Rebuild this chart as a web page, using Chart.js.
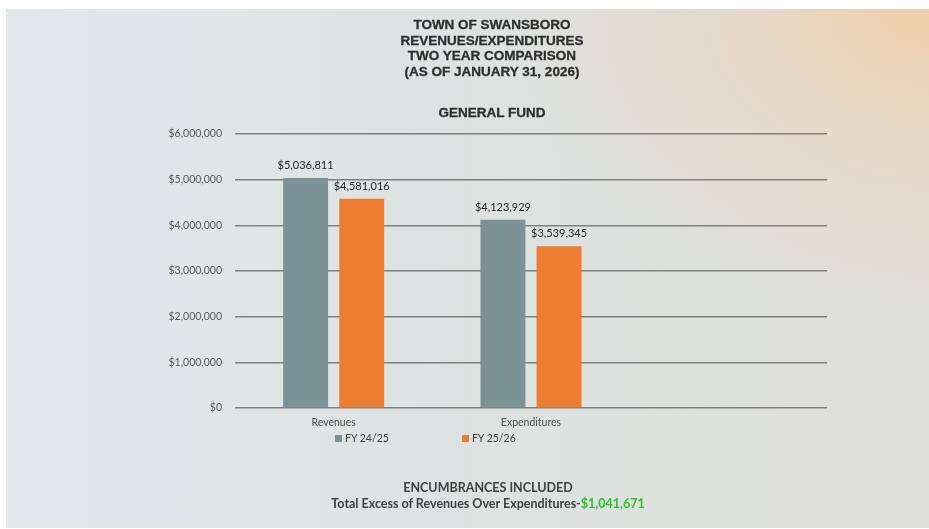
<!DOCTYPE html>
<html>
<head>
<meta charset="utf-8">
<script src="https://cdn.jsdelivr.net/npm/chart.js@4/dist/chart.umd.min.js"></script>
<style>
  html, body { margin: 0; padding: 0; background: #ffffff; }
  body { width: 929px; height: 529px; position: relative; overflow: hidden; }
  #slide {
    position: absolute; left: 6px; top: 9px; width: 923px; height: 519px;
    background:
      radial-gradient(ellipse 420px 300px at 100% 0%, rgba(242,205,165,0.95), rgba(236,212,185,0.6) 40%, rgba(226,220,205,0) 100%),
      linear-gradient(to right, #e3e9eb 0%, #dde2e2 45%, #dfdfd9 100%);
  }
  #chartCanvas { position: absolute; left: 0; top: 0; }
  .title {
    position: absolute; left: 382px; width: 220px; text-align: center;
    font-family: "Liberation Sans", Arial, sans-serif; font-weight: bold;
    font-size: 13.5px; line-height: 15.5px; color: #2e2e2e;
    -webkit-text-stroke: 0.3px #2e2e2e;
  }
  #legend {
    position: absolute; left: 335px; top: 432px; display: flex; gap: 73px;
    font-family: Lato, "Open Sans", sans-serif; font-size: 10.5px; color: #404040;
  }
  #legend .item { display: flex; align-items: center; }
  #legend .box { width: 7px; height: 7px; margin-right: 3px; }
  #footer {
    position: absolute; left: 288px; width: 400px; top: 480px; text-align: center;
    font-family: Lato, "Open Sans", sans-serif; font-weight: bold; font-size: 12.5px;
    line-height: 16px; color: #404040;
  }
  #footer .green { color: #27c427; }
</style>
</head>
<body>
<div id="slide"></div>
<canvas id="chartCanvas" width="929" height="529"></canvas>
<div class="title" style="top:17px">TOWN OF SWANSBORO<br>REVENUES/EXPENDITURES<br>TWO YEAR COMPARISON<br>(AS OF JANUARY 31, 2026)</div>
<div class="title" style="top:105px">GENERAL FUND</div>
<div id="legend"></div>
<div id="footer">ENCUMBRANCES INCLUDED<br>Total Excess of Revenues Over Expenditures-<span class="green">$1,041,671</span></div>
<script>
const categories = ['Revenues', 'Expenditures', ''];
const seriesNames = ['FY 24/25', 'FY 25/26'];
const fy2425 = [5036811, 4123929, null];
const fy2526 = [4581016, 3539345, null];
const yTicks = [0, 1000000, 2000000, 3000000, 4000000, 5000000, 6000000];
const colors = ['#7b9397', '#ed7d31'];

function money(v) {
    return '$' + String(v).replace(/\B(?=(\d{3})+(?!\d))/g, ',');
}

// value labels above each bar
const barLabels = {
    id: 'barLabels',
    afterDatasetsDraw(chart) {
        const ctx = chart.ctx;
        ctx.save();
        ctx.font = '11px Lato, "Open Sans", sans-serif';
        ctx.fillStyle = '#1f1f1f';
        ctx.textAlign = 'center';
        ctx.textBaseline = 'middle';
        chart.data.datasets.forEach((ds, i) => {
            chart.getDatasetMeta(i).data.forEach((bar, j) => {
                if (ds.data[j] == null) return;
                ctx.fillText(money(ds.data[j]), bar.x, bar.y - 12.5);
            });
        });
        ctx.restore();
    }
};

const ctx = document.getElementById('chartCanvas').getContext('2d');
const chart = new Chart(ctx, {
    type: 'bar',
    data: {
        labels: categories,
        datasets: [
            {label: seriesNames[0], data: fy2425, backgroundColor: colors[0]},
            {label: seriesNames[1], data: fy2526, backgroundColor: colors[1]}
        ]
    },
    options: {
        responsive: false,
        animation: false,
        devicePixelRatio: 1,
        categoryPercentage: 0.569,
        barPercentage: 0.8,
        layout: {padding: {left: 150, right: 102, top: 134, bottom: 0}},
        plugins: {
            legend: {display: false},
            tooltip: {enabled: false}
        },
        scales: {
            x: {
                grid: {display: false, drawTicks: false},
                border: {display: false},
                ticks: {
                    padding: 8,
                    color: '#4d4d4d',
                    font: {family: 'Lato, "Open Sans", sans-serif', size: 10.5}
                },
                afterFit: (axis) => { axis.height = 121; }
            },
            y: {
                min: 0,
                max: 6000000,
                afterBuildTicks: (axis) => { axis.ticks = yTicks.map(v => ({value: v})); },
                grid: {color: '#808080', lineWidth: 1.5, drawTicks: false},
                border: {display: false},
                ticks: {
                    padding: 13,
                    color: '#595959',
                    font: {family: 'Lato, "Open Sans", sans-serif', size: 10.5},
                    callback: (v) => money(v)
                },
                afterFit: (axis) => { axis.width = 85; }
            }
        }
    },
    plugins: [barLabels]
});

// legend built from the series names
const legend = document.getElementById('legend');
seriesNames.forEach((name, i) => {
    const item = document.createElement('div');
    item.className = 'item';
    const box = document.createElement('span');
    box.className = 'box';
    box.style.background = colors[i];
    const txt = document.createElement('span');
    txt.textContent = name;
    item.appendChild(box);
    item.appendChild(txt);
    legend.appendChild(item);
});
</script>
</body>
</html>
